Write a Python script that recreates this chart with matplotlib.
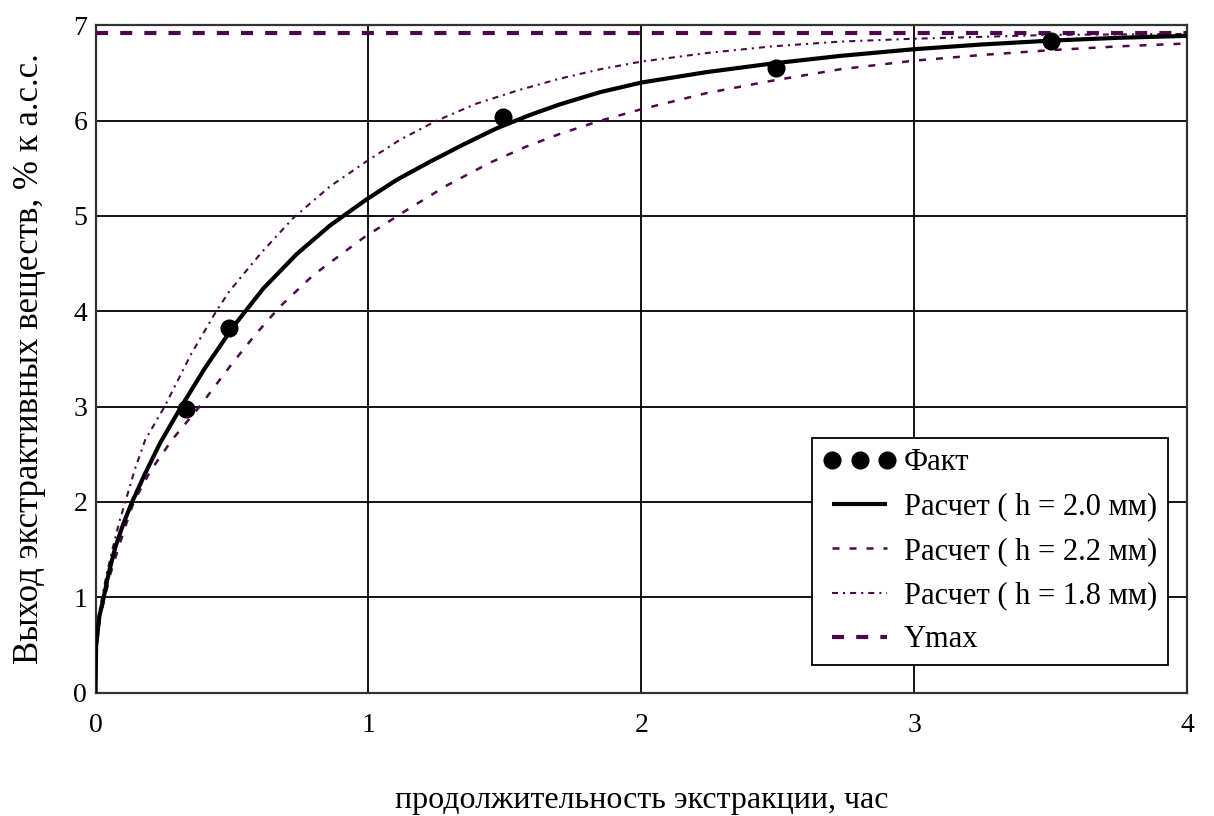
import matplotlib
matplotlib.use("Agg")
import matplotlib.pyplot as plt

plt.rcParams['font.family'] = ['Liberation Serif', 'DejaVu Serif']

# Fact data
fact_x = [0.33, 0.49, 1.495, 2.495, 3.5]
fact_y = [2.97, 3.83, 6.04, 6.55, 6.84]

# Calculated, h = 2.0 mm
h20_x = [0, 0.001, 0.002, 0.014, 0.030, 0.048, 0.073, 0.103, 0.134, 0.182, 0.237,
         0.314, 0.40, 0.505, 0.615, 0.737, 0.859, 0.991, 1.104, 1.226,
         1.348, 1.47, 1.592, 1.70, 1.85, 2.0, 2.24, 2.48, 2.73, 3.0, 3.25, 3.5,
         3.75, 4.0]
h20_y = [0, 0.25, 0.48, 0.80, 1.0, 1.25, 1.53, 1.78, 2.0, 2.30, 2.62,
         3.0, 3.40, 3.84, 4.24, 4.60, 4.90, 5.17, 5.38, 5.57,
         5.75, 5.92, 6.06, 6.17, 6.30, 6.40, 6.51, 6.60, 6.68, 6.75, 6.80, 6.84,
         6.87, 6.89]

# Calculated, h = 2.2 mm
h22_x = [0, 0.001, 0.003, 0.016, 0.034, 0.055, 0.082, 0.110, 0.140, 0.20, 0.28,
         0.381, 0.50, 0.584, 0.676, 0.798, 0.981, 1.128, 1.287, 1.446, 1.58, 1.70,
         1.85, 2.0, 2.24, 2.48, 2.73, 3.0, 3.25, 3.5, 3.75, 4.0]
h22_y = [0, 0.24, 0.46, 0.78, 1.0, 1.25, 1.50, 1.75, 2.0, 2.32, 2.65,
         3.0, 3.45, 3.75, 4.05, 4.38, 4.77, 5.04, 5.32, 5.56, 5.73, 5.86,
         6.00, 6.12, 6.29, 6.42, 6.54, 6.63, 6.69, 6.74, 6.78, 6.81]

# Calculated, h = 1.8 mm
h18_x = [0, 0.001, 0.002, 0.012, 0.024, 0.042, 0.066, 0.088, 0.109, 0.145, 0.182,
         0.253, 0.35, 0.442, 0.493, 0.609, 0.725, 0.859, 0.991, 1.116, 1.25,
         1.397, 1.55, 1.70, 1.85, 2.0, 2.24, 2.48, 2.73, 3.0, 3.25, 3.5, 4.0]
h18_y = [0, 0.26, 0.50, 0.82, 1.0, 1.26, 1.55, 1.80, 2.0, 2.35, 2.65,
         3.0, 3.55, 4.0, 4.22, 4.62, 4.98, 5.31, 5.57, 5.80, 6.00,
         6.18, 6.32, 6.44, 6.54, 6.62, 6.71, 6.78, 6.83, 6.86, 6.88, 6.90, 6.91]

ymax_x = [0, 4]
ymax_y = [6.92, 6.92]

x_ticks = [0, 1, 2, 3, 4]
y_ticks = [0, 1, 2, 3, 4, 5, 6, 7]

purple = '#4a0a4a'

fig = plt.figure(figsize=(12.14, 8.16), dpi=100)
ax = fig.add_axes([0.0787, 0.1513, 0.8991, 0.8176])

ax.plot(ymax_x, ymax_y, color=purple, lw=3.0, linestyle=(0, (2.9, 2.9)),
        label='Ymax', zorder=3)
ax.plot(h22_x, h22_y, color=purple, lw=1.8, linestyle=(0, (2.8, 4.0)),
        label='Расчет ( h = 2.2 мм)', zorder=3)
ax.plot(h18_x, h18_y, color=purple, lw=1.5, linestyle=(0, (2.9, 2.4, 1.0, 2.4)),
        label='Расчет ( h = 1.8 мм)', zorder=3)
ax.plot(h20_x, h20_y, color='black', lw=3.0, solid_capstyle='butt',
        solid_joinstyle='round', label='Расчет ( h = 2.0 мм)', zorder=4)
ax.plot(fact_x, fact_y, linestyle='none', marker='o', markersize=12,
        color='black', label='Факт', zorder=5)

ax.set_xlim(0, 4)
ax.set_ylim(0, 7)
ax.set_xticks(x_ticks)
ax.set_yticks(y_ticks)
ax.grid(True, color='black', lw=1.3)
ax.set_axisbelow(True)
ax.tick_params(axis='both', length=0, labelsize=20)
ax.tick_params(axis='x', pad=15)
ax.tick_params(axis='y', pad=6)
for s in ax.spines.values():
    s.set_color('#333333')
    s.set_linewidth(1.6)

ax.set_xlabel('продолжительность экстракции, час', fontsize=23)
ax.set_ylabel('Выход экстрактивных веществ, % к а.с.с.', fontsize=25)
ax.xaxis.set_label_coords(0.5, -0.140)
ax.yaxis.set_label_coords(-0.045, 0.5)

handles, labels = ax.get_legend_handles_labels()
order = ['Факт', 'Расчет ( h = 2.0 мм)', 'Расчет ( h = 2.2 мм)',
         'Расчет ( h = 1.8 мм)', 'Ymax']
hmap = dict(zip(labels, handles))
leg = ax.legend([hmap[k] for k in order], order, loc='lower right',
                bbox_to_anchor=(0.9826, 0.041), fontsize=22, numpoints=3,
                frameon=True, fancybox=False, framealpha=1, edgecolor='black',
                handlelength=2.4, handletextpad=0.25, borderpad=0.35,
                labelspacing=0.5, borderaxespad=0)
leg.get_frame().set_linewidth(1.3)
leg.set_zorder(10)

fig.savefig('out.png', dpi=100)
